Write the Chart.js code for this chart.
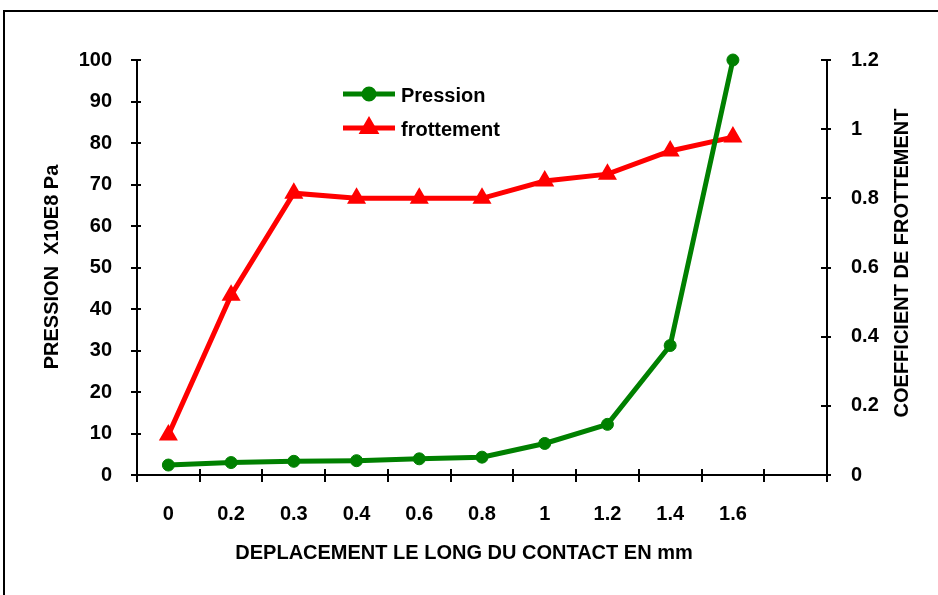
<!DOCTYPE html>
<html>
<head>
<meta charset="utf-8">
<script src="https://cdn.jsdelivr.net/npm/chart.js@4/dist/chart.umd.min.js"></script>
<style>
  body { margin: 0; background: #fff; }
  #wrap { width: 938px; height: 595px; }
</style>
</head>
<body>
<div id="wrap"><canvas id="graficoContacto" width="938" height="595"></canvas></div>
<script>
"use strict";

// Datos
const deplacements = ['0', '0.2', '0.3', '0.4', '0.6', '0.8', '1', '1.2', '1.4', '1.6', ''];
const pression = [2.4, 3.0, 3.3, 3.45, 3.9, 4.3, 7.6, 12.2, 31.2, 100];
const frottement = [0.116, 0.52, 0.815, 0.8, 0.8, 0.8, 0.85, 0.87, 0.937, 0.977];

const titreX = 'DEPLACEMENT LE LONG DU CONTACT EN mm';
const titreGauche = 'PRESSION  X10E8 Pa';
const titreDroite = 'COEFFICIENT DE FROTTEMENT';

const police = '"Liberation Sans", Arial, sans-serif';
Chart.defaults.font.family = police;

// Cadre, marques d'axes, titres et legende
const decor = {
    id: 'decor',
    beforeDraw(chart) {
        const ctx = chart.ctx;
        ctx.save();
        ctx.strokeStyle = '#000';
        ctx.lineWidth = 2;
        ctx.strokeRect(4, 11, 1200, 1200);
        ctx.restore();
    },
    afterDraw(chart) {
        const ctx = chart.ctx;
        const sx = chart.scales.x, yl = chart.scales.y, yr = chart.scales.y1;
        ctx.save();
        ctx.strokeStyle = '#000';
        ctx.lineWidth = 2;
        ctx.beginPath();
        // marques x aux limites des categories
        const w = (sx.right - sx.left) / sx.ticks.length;
        for (let k = 0; k <= sx.ticks.length; k++) {
            const x = Math.round(sx.left + k * w);
            ctx.moveTo(x, sx.top - 6);
            ctx.lineTo(x, sx.top + 7);
        }
        yl.ticks.forEach((t, i) => {
            const y = Math.round(yl.getPixelForTick(i));
            ctx.moveTo(yl.right - 6, y);
            ctx.lineTo(yl.right + 4, y);
        });
        yr.ticks.forEach((t, i) => {
            const y = Math.round(yr.getPixelForTick(i));
            ctx.moveTo(yr.left - 6, y);
            ctx.lineTo(yr.left + 4, y);
        });
        ctx.stroke();

        // titres
        ctx.fillStyle = '#000';
        ctx.font = 'bold 20px ' + police;
        ctx.textAlign = 'center';
        ctx.textBaseline = 'middle';
        ctx.fillText(titreX, 464, 553);
        ctx.save();
        ctx.translate(52, 267);
        ctx.rotate(-Math.PI / 2);
        ctx.fillText(titreGauche, 0, 0);
        ctx.restore();
        ctx.save();
        ctx.translate(902, 263);
        ctx.rotate(-Math.PI / 2);
        ctx.fillText(titreDroite, 0, 0);
        ctx.restore();

        // legende
        chart.data.datasets.forEach((ds, i) => {
            const y = 94 + i * 34;
            ctx.strokeStyle = ds.borderColor;
            ctx.lineWidth = 5;
            ctx.beginPath();
            ctx.moveTo(343, y);
            ctx.lineTo(395, y);
            ctx.stroke();
            ctx.fillStyle = ds.pointBackgroundColor;
            ctx.strokeStyle = ds.pointBackgroundColor;
            Chart.helpers.drawPoint(ctx, {
                pointStyle: ds.pointStyle,
                radius: i === 0 ? 5 : 7,
                rotation: 0,
                borderWidth: 1
            }, 369, y);
            ctx.fillStyle = '#000';
            ctx.textAlign = 'left';
            ctx.textBaseline = 'middle';
            ctx.fillText(ds.label, 401, y + 2);
        });
        ctx.restore();
    }
};

const ctx = document.getElementById('graficoContacto').getContext('2d');
new Chart(ctx, {
    type: 'line',
    data: {
        labels: deplacements,
        datasets: [{
            label: 'Pression',
            data: pression,
            yAxisID: 'y',
            borderColor: '#008000',
            backgroundColor: '#008000',
            pointBackgroundColor: '#008000',
            pointBorderColor: '#008000',
            pointStyle: 'circle',
            pointRadius: 6,
            pointBorderWidth: 1,
            borderWidth: 5,
            tension: 0,
            clip: false
        }, {
            label: 'frottement',
            data: frottement,
            yAxisID: 'y1',
            borderColor: '#ff0000',
            backgroundColor: '#ff0000',
            pointBackgroundColor: '#ff0000',
            pointBorderColor: '#ff0000',
            pointStyle: 'triangle',
            pointRadius: 9,
            pointBorderWidth: 2,
            borderWidth: 5,
            tension: 0,
            clip: false
        }]
    },
    options: {
        responsive: false,
        animation: false,
        devicePixelRatio: 1,
        layout: { padding: { top: 60, left: 0, right: 0, bottom: 0 } },
        plugins: {
            legend: { display: false },
            tooltip: { enabled: false }
        },
        scales: {
            x: {
                offset: true,
                grid: { display: false },
                border: { display: true, color: '#000', width: 2 },
                ticks: {
                    color: '#000',
                    font: { size: 20, weight: 'bold' },
                    padding: 19,
                    maxRotation: 0,
                    autoSkip: false
                },
                afterFit: s => { s.height = 120; }
            },
            y: {
                position: 'left',
                min: 0,
                max: 100,
                grid: { display: false },
                border: { display: true, color: '#000', width: 2 },
                ticks: {
                    stepSize: 10,
                    color: '#000',
                    font: { size: 20, weight: 'bold' },
                    padding: 17
                },
                afterFit: s => { s.width = 137; }
            },
            y1: {
                position: 'right',
                min: 0,
                max: 1.2,
                grid: { display: false },
                border: { display: true, color: '#000', width: 2 },
                ticks: {
                    stepSize: 0.2,
                    color: '#000',
                    font: { size: 20, weight: 'bold' },
                    padding: 16,
                    callback: v => String(Number(v.toFixed(1)))
                },
                afterFit: s => { s.width = 111; }
            }
        }
    },
    plugins: [decor]
});
</script>
</body>
</html>
